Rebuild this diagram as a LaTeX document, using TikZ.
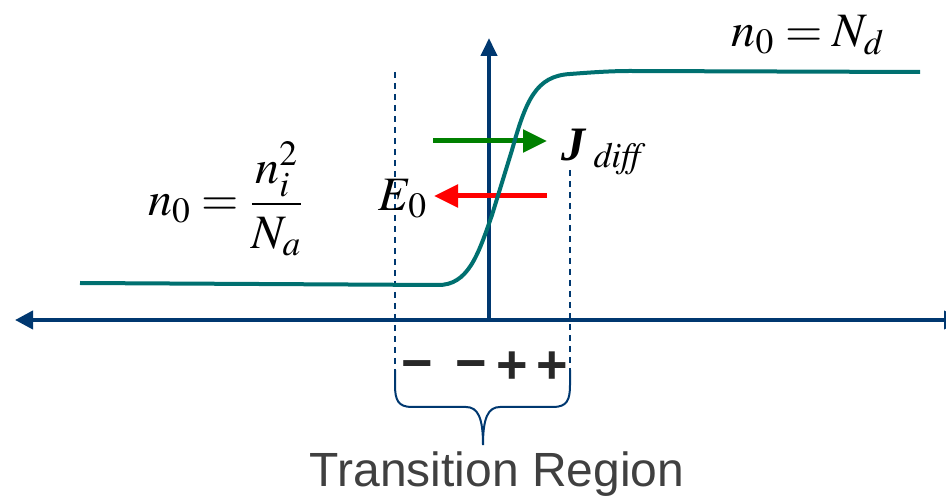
\documentclass[tikz,border=0pt]{standalone}
\usepackage{mathptmx}
\usepackage[no-math]{fontspec}
\setmainfont{Liberation Serif}
\setsansfont{Liberation Sans}
\usetikzlibrary{arrows.meta}
\definecolor{axisblue}{RGB}{0,56,112}
\definecolor{curveteal}{RGB}{0,112,112}
\definecolor{signgray}{RGB}{40,40,40}
\definecolor{textgray}{RGB}{64,64,64}

\begin{document}
\begin{tikzpicture}[x=0.5pt,y=-0.5pt,
  every node/.style={font=\fontsize{24}{28}\selectfont,inner sep=0pt},
  axis/.style={draw=axisblue,line width=2pt},
  bound/.style={draw=axisblue,line width=0.75pt,dash pattern=on 3pt off 2.5pt},
  field/.style={line width=2.5pt,-{Triangle[length=12pt,width=11pt]}},
  sign/.style={font=\fontsize{27}{30}\selectfont\sffamily\bfseries,text=signgray,anchor=base}]
  \useasboundingbox (0,0) rectangle (946,501);
  % axes
  \coordinate (xl) at (15,320);
  \coordinate (xr) at (962,320);
  \coordinate (o) at (489,320);
  \coordinate (yt) at (489,38);
  \draw[axis,{Triangle[length=9pt,width=9pt]}-{Triangle[length=9pt,width=9pt]}] (xl) -- (xr);
  \draw[axis,-{Triangle[length=9pt,width=8pt]}] (o) -- (yt);
  % edges of the transition region
  \coordinate (dlt) at (395,72);
  \coordinate (dlb) at (395,370);
  \coordinate (drt) at (570,170);
  \coordinate (drb) at (570,370);
  \draw[bound] (dlt) -- (dlb);
  \draw[bound] (drt) -- (drb);
  \draw[axisblue,line width=1pt] (dlb) -- (395,385) .. controls (395,400) and (398,407) .. (412,407)
    -- (466,407) .. controls (478,407) and (483,418) .. (483,445)
    .. controls (483,418) and (488,407) .. (500,407) -- (553,407)
    .. controls (567,407) and (570,400) .. (570,385) -- (drb);
  % space charge
  \node[sign] (m1) at (417,382) {−};
  \node[sign] (m2) at (471,382) {−};
  \node[sign] (p1) at (512,384) {+};
  \node[sign] (p2) at (552,384) {+};
  \node[font=\fontsize{24}{28}\selectfont\sffamily,text=textgray] (trans) at (497,474) {Transition Region};
  % diffusion and field
  \coordinate (ga) at (433,141);
  \coordinate (gb) at (547,141);
  \coordinate (ra) at (547,196);
  \coordinate (rb) at (434,196);
  \draw[field,draw=green!50!black,fill=green!50!black] (ga) -- (gb);
  \draw[field,draw=red,fill=red] (ra) -- (rb);
  \node (jd) at (604,152) {{\bfseries\itshape J}\,$_{\mathit{diff}}$};
  \node (ez) at (403,199) {$E_0$};
  % carrier density
  \draw[curveteal,line width=2pt] (80,283) -- (437,285) .. controls (468,286) and (478,255) .. (492,215)
    -- (512,150) .. controls (526,100) and (536,76) .. (570,74)
    .. controls (590,72.5) and (610,71) .. (630,71) -- (920,72);
  \node (nl) at (226,199) {$\displaystyle n_0=\frac{n_i^2}{N_a}$};
  \node (nr) at (808,35) {$n_0=N_d$};
\end{tikzpicture}
\end{document}
